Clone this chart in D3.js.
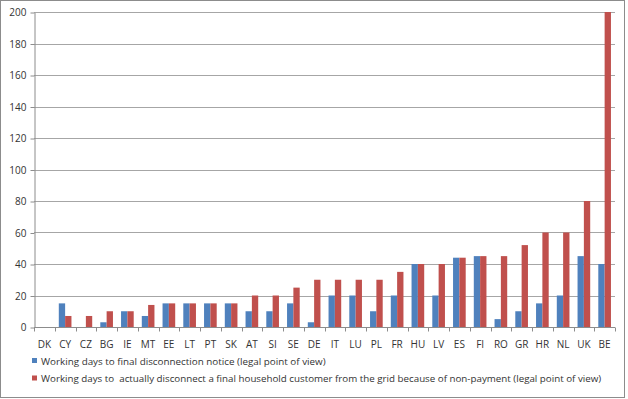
<!DOCTYPE html>
<html>
<head>
<meta charset="utf-8">
<script src="https://cdn.jsdelivr.net/npm/d3@7"></script>
<style>
  body { margin: 0; background: #fff; }
  text { font-family: "Open Sans", sans-serif; fill: #333; }
</style>
</head>
<body>
<script>
// categories and series
const countries = ["DK","CY","CZ","BG","IE","MT","EE","LT","PT","SK","AT","SI","SE","DE",
                   "IT","LU","PL","FR","HU","LV","ES","FI","RO","GR","HR","NL","UK","BE"]
const noticeDays = [0,15,0,3,10,7,15,15,15,15,10,10,15,3,20,20,10,20,40,20,44,45,5,10,15,20,45,40]
const disconnectDays = [0,7,7,10,10,14,15,15,15,15,20,20,25,30,30,30,30,35,40,40,44,45,45,52,60,60,80,200]
const yTicks = [0,20,40,60,80,100,120,140,160,180,200]
const seriesNames = ["Working days to final disconnection notice (legal point of view)",
  "Working days to  actually disconnect a final household customer from the grid because of non-payment (legal point of view)"]
const colors = ["#4f81bd", "#c0504d"]

let W = 628, H = 399
let margin = { top: 12, right: 13, left: 34, bottom: 72 }

let svg = d3.select("body").append("svg")
    .attr("width", W)
    .attr("height", H)

// outer frame
svg.append("rect")
    .attr("x", 0.5).attr("y", 0.5)
    .attr("width", 624).attr("height", 397)
    .attr("fill", "#fff")
    .attr("stroke", "#8c8c8c")

let x = d3.scaleBand()
    .domain(countries)
    .range([margin.left, W - margin.right])
    .paddingInner(0.39).paddingOuter(0.195)

let y = d3.scaleLinear()
    .domain([0, 200])
    .range([H - margin.bottom, margin.top])

// gridlines
svg.append("g")
    .selectAll("line")
    .data(yTicks.filter(d => d > 0))
    .enter()
    .append("line")
    .attr("x1", margin.left).attr("x2", W - margin.right)
    .attr("y1", d => Math.round(y(d)) + 0.5).attr("y2", d => Math.round(y(d)) + 0.5)
    .attr("stroke", "#a6a6a6")

// y axis
let yAxis = svg.append("g")
    .attr("transform", "translate(" + (margin.left + 0.5) + ",0.5)")
    .call(d3.axisLeft(y).tickValues(yTicks).tickSize(4).tickPadding(4).tickSizeOuter(0))
yAxis.select(".domain").attr("stroke", "#8c8c8c")
yAxis.selectAll(".tick line").attr("stroke", "#8c8c8c")
yAxis.selectAll(".tick text").attr("font-size", 10).attr("fill", "#333")
    .attr("font-family", "Open Sans, sans-serif")

// bars
let bw = x.bandwidth() / 2
let groups = svg.append("g")
    .selectAll("g")
    .data(countries)
    .enter()
    .append("g")
    .attr("transform", d => "translate(" + x(d) + ",0)")

groups.append("rect")
    .attr("x", 0)
    .attr("y", (d, i) => y(noticeDays[i]))
    .attr("width", bw)
    .attr("height", (d, i) => y(0) - y(noticeDays[i]))
    .attr("fill", colors[0])

groups.append("rect")
    .attr("x", bw)
    .attr("y", (d, i) => y(disconnectDays[i]))
    .attr("width", bw)
    .attr("height", (d, i) => y(0) - y(disconnectDays[i]))
    .attr("fill", colors[1])

// x axis
let step = x.step()
let xAxis = svg.append("g")
    .attr("transform", "translate(0," + (Math.round(y(0)) + 0.5) + ")")
xAxis.append("line")
    .attr("x1", margin.left).attr("x2", W - margin.right)
    .attr("stroke", "#8c8c8c")
xAxis.selectAll(".xtick")
    .data(d3.range(countries.length + 1))
    .enter()
    .append("line")
    .attr("x1", i => Math.round(margin.left + i * step) + 0.5)
    .attr("x2", i => Math.round(margin.left + i * step) + 0.5)
    .attr("y1", 0).attr("y2", 4)
    .attr("stroke", "#8c8c8c")
xAxis.selectAll("text")
    .data(countries)
    .enter()
    .append("text")
    .attr("x", d => x(d) + x.bandwidth() / 2)
    .attr("y", 20)
    .attr("text-anchor", "middle")
    .attr("font-size", 10)
    .text(d => d)

// legend
let legend = svg.append("g")
    .selectAll("g")
    .data(seriesNames)
    .enter()
    .append("g")
    .attr("transform", (d, i) => "translate(32," + (361 + i * 17.5) + ")")

legend.append("rect")
    .attr("x", 0).attr("y", -3)
    .attr("width", 5).attr("height", 5)
    .attr("fill", (d, i) => colors[i])

// size the legend text so the long line spans the same width as in the picture
let targetW = [285, 561]
legend.append("text")
    .attr("x", 9)
    .attr("y", 3.5)
    .attr("font-size", 10.5)
    .style("white-space", "pre")
    .text(d => d)
    .each(function (d, i) {
        let len = this.getComputedTextLength()
        d3.select(this).attr("font-size", 10.5 * targetW[i] / len)
    })
</script>
</body>
</html>
